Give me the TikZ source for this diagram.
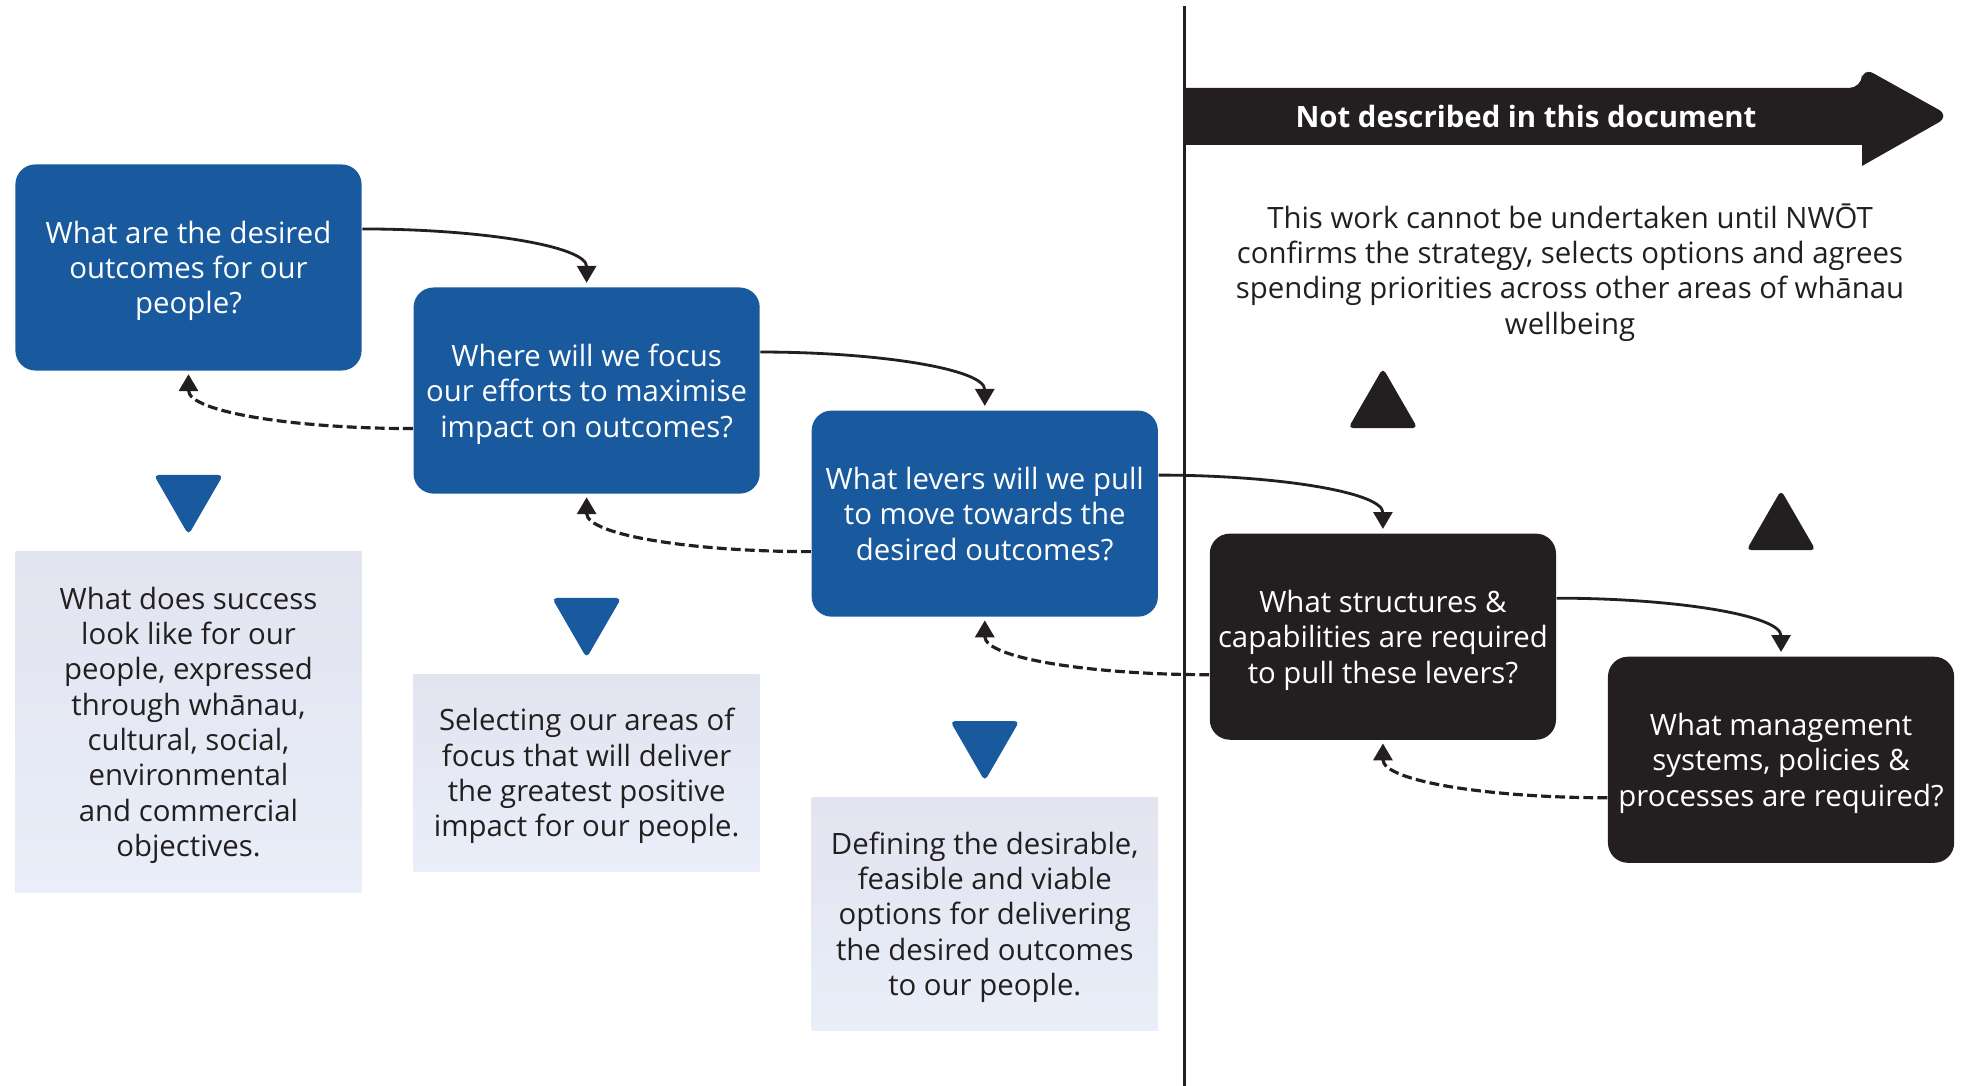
\documentclass[tikz,border=0pt]{standalone}
\usepackage{fontspec}
\setmainfont{Open Sans}
\usepackage{tikz}
\usetikzlibrary{arrows.meta,positioning,shapes.geometric}

\definecolor{qblue}{RGB}{24,90,157}
\definecolor{ink}{RGB}{35,31,32}
\definecolor{mist}{RGB}{226,228,240}
\definecolor{mistlow}{RGB}{233,238,249}

\begin{document}
\begin{tikzpicture}[x=0.01cm, y=0.01cm, >={Triangle[length=4.8pt,width=5.4pt]},
    font=\fontsize{8.35}{10.05}\selectfont,
    question/.style={rectangle, rounded corners=2mm, minimum width=3.46cm, minimum height=2.06cm, inner sep=0pt, text depth=0pt, align=center, text=white},
    askblue/.style={question, fill=qblue},
    askdark/.style={question, fill=ink},
    answer/.style={rectangle, minimum width=3.46cm, inner sep=0pt, text depth=0pt, align=center, text=ink, top color=mist, bottom color=mistlow},
    downtri/.style={regular polygon, regular polygon sides=3, shape border rotate=180, minimum size=8mm, inner sep=0pt, rounded corners=1.4pt, fill=qblue},
    uptri/.style={regular polygon, regular polygon sides=3, minimum size=8mm, inner sep=0pt, rounded corners=1.4pt, fill=ink},
    fwd/.style={->, draw=ink, line width=0.8pt, shorten >=0.4mm},
    back/.style={->, draw=ink, line width=0.9pt, dash pattern=on 2.8pt off 1.2pt, shorten >=0.3mm}]
    \useasboundingbox (0,0) rectangle (1966,1086);

    % Nodes {q1, q2, q3, q4, q5}
    \node [askblue] (q1) at (188.5,818.5)              {What are the desired\\outcomes for our\\people?};
    \node [askblue] (q2) [right=5.05mm of q1, yshift=-12.3mm] {Where will we focus\\our efforts to maximise\\impact on outcomes?};
    \node [askblue] (q3) [right=5.05mm of q2, yshift=-12.3mm] {What levers will we pull\\to move towards the\\desired outcomes?};
    \node [askdark] (q4) [right=5.05mm of q3, yshift=-12.3mm] {What structures \&\\capabilities are required\\to pull these levers?};
    \node [askdark] (q5) [right=5.05mm of q4, yshift=-12.3mm] {What management\\systems, policies \&\\processes are required?};

    % Answers {a1, a2, a3}
    \node [answer, minimum height=3.41cm] (a1) [below=1.79cm of q1] {What does success\\look like for our\\people, expressed\\through whānau,\\cultural, social,\\environmental\\and commercial\\objectives.};
    \node [answer, minimum height=1.97cm] (a2) [below=1.79cm of q2] {Selecting our areas of\\focus that will deliver\\the greatest positive\\impact for our people.};
    \node [answer, minimum height=2.33cm] (a3) [below=1.79cm of q3] {Defining the desirable,\\feasible and viable\\options for delivering\\the desired outcomes\\to our people.};

    % Markers
    \node [downtri] (d1) [above=1.4mm of a1] {};
    \node [downtri] (d2) [above=1.4mm of a2] {};
    \node [downtri] (d3) [above=1.4mm of a3] {};
    \node [uptri]   (u4) [above=10.4mm of q4] {};
    \node [uptri]   (u5) [above=10.5mm of q5] {};

    % Divider and banner
    \coordinate (divtop) at (1184,1080);
    \coordinate (divbot) at (1184,0);
    \draw [ink, line width=0.85pt] (divtop) -- (divbot);
    \fill [ink] (1184,941) -- (1862,941) -- (1862,920) [rounded corners=1.3mm] -- (1950,970) -- (1862,1019) -- (1862,998) [sharp corners] -- (1184,998) -- cycle;
    \node [text=white, font=\fontsize{8.35}{10}\selectfont\bfseries] (banner) at (1526,969) {Not described in this document};
    \node [text=ink, align=center, text depth=0pt] (note) at (1570,817) {This work cannot be undertaken until NWŌT\\confirms the strategy, selects options and agrees\\spending priorities across other areas of whānau\\wellbeing};

    % Paths
    \path ([yshift=3.85mm]q1.east) edge [fwd, out=0, in=90, out looseness=1.3, in looseness=0.45] (q2.north);
    \path ([yshift=3.85mm]q2.east) edge [fwd, out=0, in=90, out looseness=1.3, in looseness=0.45] (q3.north);
    \path ([yshift=3.85mm]q3.east) edge [fwd, out=0, in=90, out looseness=1.3, in looseness=0.45] (q4.north);
    \path ([yshift=3.85mm]q4.east) edge [fwd, out=0, in=90, out looseness=1.3, in looseness=0.45] (q5.north);
    \path ([yshift=-3.8mm]q2.west) edge [back, out=180, in=-90, out looseness=1.3, in looseness=0.45] (q1.south);
    \path ([yshift=-3.8mm]q3.west) edge [back, out=180, in=-90, out looseness=1.3, in looseness=0.45] (q2.south);
    \path ([yshift=-3.8mm]q4.west) edge [back, out=180, in=-90, out looseness=1.3, in looseness=0.45] (q3.south);
    \path ([yshift=-3.8mm]q5.west) edge [back, out=180, in=-90, out looseness=1.3, in looseness=0.45] (q4.south);

\end{tikzpicture}
\end{document}
